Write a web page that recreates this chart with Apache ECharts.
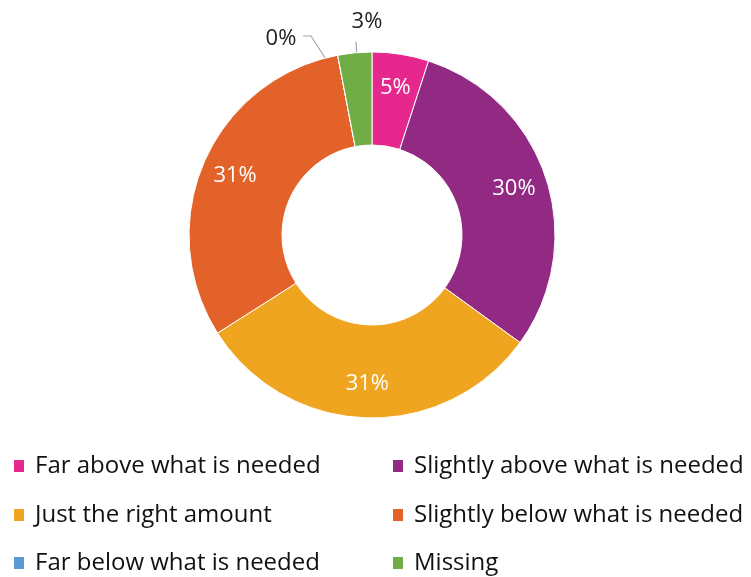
<!DOCTYPE html>
<html><head><meta charset="utf-8">
<script src="https://cdn.jsdelivr.net/npm/echarts@6/dist/echarts.min.js"></script>
<style>html,body{margin:0;padding:0;background:#fff}#c{width:751px;height:577px}</style>
</head><body><div id="c"></div>
<script>
const categories = ['Far above what is needed','Slightly above what is needed','Just the right amount','Slightly below what is needed','Far below what is needed','Missing'];
const values = [5, 30, 31, 31, 0, 3];
const colors = ['#E6288E','#922A84','#F0A520','#E2622A','#5B9BD5','#70AD47'];
const legendRows = [
  ['Far above what is needed','Slightly above what is needed'],
  ['Just the right amount','Slightly below what is needed'],
  ['Far below what is needed','Missing']
];

const FONT = '"Open Sans", sans-serif';
const CX = 372, CY = 235, R0 = 90, R1 = 183, LABEL_R = 146;
const chart = echarts.init(document.getElementById('c'), null, {renderer:'canvas'});
const outsideIdx = [4,5];
const data = categories.map((n,i)=>({
  name:n, value:values[i], itemStyle:{color:colors[i]},
  label: outsideIdx.includes(i) ? {position:'outside', color:'#222'} : {position:'inside', color:'#fff'},
  labelLine: outsideIdx.includes(i) ? {show:true} : {show:false}
}));
const rowTops = [451, 500, 548];
const colLefts = [12, 391];
const legends = [];
legendRows.forEach((row,r)=>row.forEach((name,c)=>legends.push({
  orient:'horizontal', left:colLefts[c], top:rowTops[r], padding:0, icon:'rect',
  itemWidth:12, itemHeight:14, itemGap:0, selectedMode:false, data:[name],
  textStyle:{fontFamily:FONT, fontSize:24, color:'#111', lineHeight:30, padding:[0,0,0,5]}
})));
chart.setOption({
  animation:false,
  legend:legends,
  series:[{
    type:'pie', center:[CX,CY], radius:[R0,R1], startAngle:90, clockwise:true,
    avoidLabelOverlap:false, stillShowZeroSum:true,
    itemStyle:{borderColor:'#fff', borderWidth:1},
    label:{show:true, fontFamily:FONT, fontSize:22, formatter:p=>Math.round(p.percent)+'%'},
    labelLine:{lineStyle:{color:'#A6A6A6', width:1.2}, length:10, length2:10},
    data:data,
    labelLayout:function(p){
      if(p.dataIndex===5){
        return {x:367, y:22, align:'center', verticalAlign:'middle', labelLinePoints:[[356,42],[359,88]]};
      }
      if(p.dataIndex===4){
        return {x:281, y:39, align:'center', verticalAlign:'middle', labelLinePoints:[[303,36],[311,36],[347,92]]};
      }
      const lr = p.labelRect;
      const lx = lr.x + lr.width/2, ly = lr.y + lr.height/2;
      const k = LABEL_R / ((R0+R1)/2);
      return {x: CX + (lx-CX)*k, y: CY + (ly-CY)*k, align:'center', verticalAlign:'middle'};
    }
  }]
});
</script></body></html>
